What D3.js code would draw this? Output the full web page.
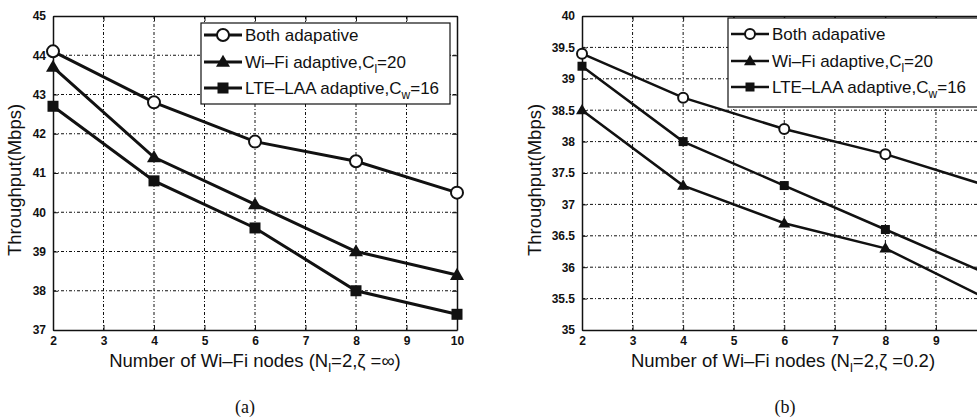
<!DOCTYPE html>
<html lang="en">
    <head>
        <meta charset="utf-8">
        <title>Throughput vs Wi-Fi nodes</title>
        <script src="https://d3js.org/d3.v7.min.js"></script>
        <style>
            body { margin: 0; overflow: hidden; background: #fff; }
            svg { display: block; }
            text { font-family: "Liberation Sans", Arial, sans-serif; fill: #111; }
        </style>
    </head>
    <body>
        <script type="text/javascript">
            const BLACK = '#111';

            // x values (number of Wi-Fi nodes)
            const xNodes = [2, 4, 6, 8, 10];
            const xTicks = [2, 3, 4, 5, 6, 7, 8, 9, 10];

            // panel (a): zeta = infinity
            const bothA = [44.1, 42.8, 41.8, 41.3, 40.5];
            const wifiA = [43.7, 41.4, 40.2, 39.0, 38.4];
            const lteA  = [42.7, 40.8, 39.6, 38.0, 37.4];
            const yTicksA = [37, 38, 39, 40, 41, 42, 43, 44, 45];

            // panel (b): zeta = 0.2
            const bothB = [39.4, 38.7, 38.2, 37.8, 37.3];
            const wifiB = [38.5, 37.3, 36.7, 36.3, 35.5];
            const lteB  = [39.2, 38.0, 37.3, 36.6, 35.9];
            const yTicksB = [35, 35.5, 36, 36.5, 37, 37.5, 38, 38.5, 39, 39.5, 40];

            // legend labels: [text, subscript, tail]
            const legendLabels = [
                ["Both adapative", "", ""],
                ["Wi\u2013Fi adaptive,C", "l", "=20"],
                ["LTE\u2013LAA adaptive,C", "w", "=16"]
            ];
            const markers = ["circle", "triangle", "square"];

            var width = 977,
                height = 417;

            var svg = d3.select("body").append("svg")
                .attr("width", width)
                .attr("height", height);

            var panels = [
                { left: 53, right: 457, top: 16, bottom: 330, yTicks: yTicksA,
                  series: [bothA, wifiA, lteA], zeta: "\u221e", tag: "(a)",
                  lw: 3, msize: [6, 14, 11], legX: 201, legY: 23, legW: 249, legH: 81,
                  xLabelX: 255, yLabelX: 21, tagX: 245 },
                { left: 582, right: 986.5, top: 16, bottom: 330, yTicks: yTicksB,
                  series: [bothB, wifiB, lteB], zeta: "0.2", tag: "(b)",
                  lw: 2.5, msize: [5, 12, 9], legX: 728, legY: 18, legW: 262, legH: 89,
                  xLabelX: 783, yLabelX: 541, tagX: 785 }
            ];

            panels.forEach(function(p) {
                var x = d3.scaleLinear().domain([2, 10]).range([p.left, p.right]);
                var y = d3.scaleLinear()
                    .domain([p.yTicks[0], p.yTicks[p.yTicks.length - 1]])
                    .range([p.bottom, p.top]);

                var g = svg.append("g");

                // grid
                g.selectAll(".vgrid").data(xTicks.slice(1, -1)).enter().append("line")
                    .attr("x1", d => x(d)).attr("x2", d => x(d))
                    .attr("y1", p.top).attr("y2", p.bottom)
                    .attr("stroke", BLACK).attr("stroke-width", 1)
                    .attr("stroke-dasharray", "3,2,1,2");
                g.selectAll(".hgrid").data(p.yTicks.slice(1, -1)).enter().append("line")
                    .attr("x1", p.left).attr("x2", p.right)
                    .attr("y1", d => y(d)).attr("y2", d => y(d))
                    .attr("stroke", BLACK).attr("stroke-width", 1)
                    .attr("stroke-dasharray", "3,2,1,2");

                // axes (labels past the page edge are left out, as in the source)
                var xAxis = g.append("g")
                    .attr("transform", "translate(0," + p.bottom + ")")
                    .call(d3.axisBottom(x).tickValues(xTicks).tickSizeInner(-5).tickSizeOuter(0).tickPadding(6)
                        .tickFormat(d => x(d) > width - 6 ? "" : String(d)));
                var xAxisTop = g.append("g")
                    .attr("transform", "translate(0," + p.top + ")")
                    .call(d3.axisTop(x).tickValues(xTicks).tickSizeInner(-5).tickSizeOuter(0).tickFormat(""));
                var yAxis = g.append("g")
                    .attr("transform", "translate(" + p.left + ",0)")
                    .call(d3.axisLeft(y).tickValues(p.yTicks).tickSizeInner(-5).tickSizeOuter(0).tickPadding(7)
                        .tickFormat(d => String(d)));
                var yAxisRight = g.append("g")
                    .attr("transform", "translate(" + p.right + ",0)")
                    .call(d3.axisRight(y).tickValues(p.yTicks).tickSizeInner(-5).tickSizeOuter(0).tickFormat(""));

                [xAxis, xAxisTop, yAxis, yAxisRight].forEach(function(a) {
                    a.select(".domain").attr("stroke", BLACK).attr("stroke-width", 1.5);
                    a.selectAll(".tick line").attr("stroke", BLACK);
                    a.selectAll("text")
                        .style("font-family", '"Liberation Sans", Arial, sans-serif')
                        .style("font-size", "12px")
                        .style("font-weight", "bold")
                        .attr("fill", "#333");
                });

                // series lines and markers
                var line = d3.line()
                    .x((d, i) => x(xNodes[i]))
                    .y(d => y(d));

                p.series.forEach(function(vals, si) {
                    g.append("path")
                        .datum(vals)
                        .attr("d", line)
                        .attr("fill", "none")
                        .attr("stroke", BLACK)
                        .attr("stroke-width", p.lw);
                    drawMarkers(g, vals.map((v, i) => [x(xNodes[i]), y(v)]), markers[si], p.msize[si]);
                });

                // legend
                var leg = g.append("g");
                leg.append("rect")
                    .attr("x", p.legX).attr("y", p.legY)
                    .attr("width", p.legW).attr("height", p.legH)
                    .attr("fill", "white")
                    .attr("stroke", BLACK).attr("stroke-width", 1.2);
                var rows = [12, 39, 65];
                legendLabels.forEach(function(lab, i) {
                    var ry = p.legY + rows[i] + (p.legH - 81) / 2;
                    leg.append("line")
                        .attr("x1", p.legX + 3).attr("x2", p.legX + 41)
                        .attr("y1", ry).attr("y2", ry)
                        .attr("stroke", BLACK).attr("stroke-width", p.lw);
                    drawMarkers(leg, [[p.legX + 22, ry]], markers[i], p.msize[i]);
                    var t = leg.append("text")
                        .attr("x", p.legX + 44).attr("y", ry + 6)
                        .style("font-size", "17px")
                        .text(lab[0]);
                    if (lab[1]) {
                        t.append("tspan").attr("dy", 5).style("font-size", "12px").text(lab[1]);
                        t.append("tspan").attr("dy", -5).text(lab[2]);
                    }
                });

                // x label
                var xl = svg.append("text")
                    .attr("x", p.xLabelX).attr("y", 367)
                    .attr("text-anchor", "middle")
                    .style("font-size", "18.5px")
                    .text("Number of Wi\u2013Fi nodes (N");
                xl.append("tspan").attr("dy", 5).style("font-size", "13px").text("l");
                xl.append("tspan").attr("dy", -5).text("=2,\u03b6 =" + p.zeta + ")");

                // y label
                svg.append("text")
                    .attr("transform", "translate(" + p.yLabelX + ",180) rotate(-90)")
                    .attr("text-anchor", "middle")
                    .style("font-size", "18.5px")
                    .text("Throughput(Mbps)");

                // panel tag
                svg.append("text")
                    .attr("x", p.tagX).attr("y", 413)
                    .attr("text-anchor", "middle")
                    .style("font-family", '"Liberation Serif", "Times New Roman", serif')
                    .style("font-size", "18px")
                    .text(p.tag);
            });

            function drawMarkers(sel, pts, type, size) {
                pts.forEach(function(pt) {
                    if (type === "circle") {
                        sel.append("circle")
                            .attr("cx", pt[0]).attr("cy", pt[1]).attr("r", size)
                            .attr("fill", "white")
                            .attr("stroke", BLACK).attr("stroke-width", 2);
                    } else if (type === "square") {
                        sel.append("rect")
                            .attr("x", pt[0] - size / 2).attr("y", pt[1] - size / 2)
                            .attr("width", size).attr("height", size)
                            .attr("fill", BLACK);
                    } else {
                        var h = size * Math.sqrt(3) / 2;
                        sel.append("path")
                            .attr("d", "M" + pt[0] + "," + (pt[1] - h * 0.6) +
                                "L" + (pt[0] + size / 2) + "," + (pt[1] + h * 0.4) +
                                "L" + (pt[0] - size / 2) + "," + (pt[1] + h * 0.4) + "Z")
                            .attr("fill", BLACK);
                    }
                });
            }
        </script>
    </body>
</html>
